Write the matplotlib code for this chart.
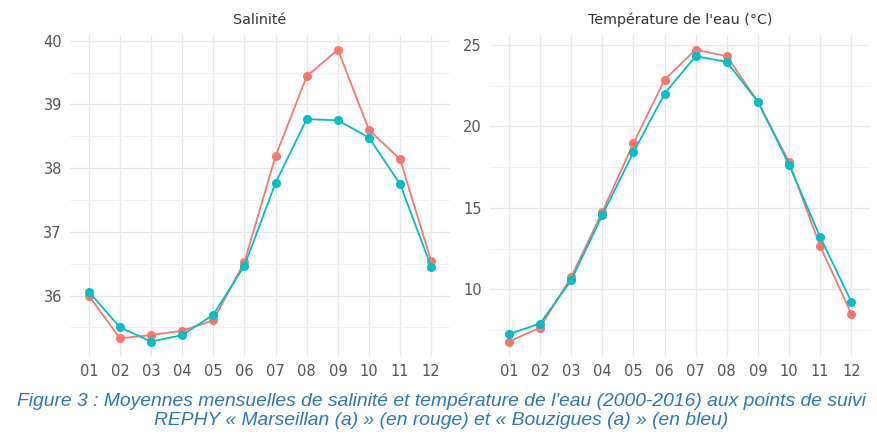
import matplotlib.pyplot as plt
import numpy as np

months = ["01", "02", "03", "04", "05", "06", "07", "08", "09", "10", "11", "12"]

# salinite
sal_marseillan = [36.0, 35.33, 35.38, 35.45, 35.61, 36.53, 38.19, 39.44, 39.86, 38.6, 38.14, 36.54]
sal_bouzigues = [36.06, 35.5, 35.28, 35.38, 35.7, 36.47, 37.77, 38.77, 38.75, 38.48, 37.75, 36.45]

# temperature de l'eau
temp_marseillan = [6.8, 7.65, 10.75, 14.75, 18.95, 22.85, 24.7, 24.3, 21.5, 17.8, 12.65, 8.5]
temp_bouzigues = [7.25, 7.9, 10.55, 14.55, 18.4, 22.0, 24.3, 23.95, 21.5, 17.65, 13.2, 9.25]

red = "#F8766D"
blue = "#00BFC4"

fig = plt.figure(figsize=(8.77, 4.38), dpi=100)
ax1 = fig.add_axes([0.080, 0.187, 0.433, 0.733])
ax2 = fig.add_axes([0.559, 0.187, 0.433, 0.733])


def panel(ax, a, b, title, major, minor):
    x = np.arange(1, len(months) + 1)
    ax.plot(x, a, color=red, lw=1.3, marker="o", ms=5.5, zorder=3)
    ax.plot(x, b, color=blue, lw=1.3, marker="o", ms=5.5, zorder=3)
    lo = min(min(a), min(b))
    hi = max(max(a), max(b))
    pad = (hi - lo) * 0.05
    ax.set_ylim(lo - pad, hi + pad)
    ax.set_xlim(0.4, len(months) + 0.6)
    ax.set_xticks(x)
    ax.set_xticklabels(months)
    ax.set_yticks(major)
    ax.set_yticks(minor, minor=True)
    ax.grid(True, which="major", color="#E6E6E6", lw=0.9)
    ax.grid(True, which="minor", axis="y", color="#F0F0F0", lw=0.7)
    ax.set_axisbelow(True)
    for s in ax.spines.values():
        s.set_visible(False)
    ax.tick_params(which="both", length=0)
    ax.tick_params(labelsize=10.5, colors="#555555", pad=6)
    ax.tick_params(axis="x", pad=6)
    ax.set_title(title, fontsize=10.3, color="#333333", pad=8)


panel(ax1, sal_marseillan, sal_bouzigues, "Salinité",
      [36, 37, 38, 39, 40], [35.5, 36.5, 37.5, 38.5, 39.5])
panel(ax2, temp_marseillan, temp_bouzigues, "Température de l'eau (°C)",
      [10, 15, 20, 25], [7.5, 12.5, 17.5, 22.5])

caption = ("Figure 3 : Moyennes mensuelles de salinité et température de l'eau (2000-2016) aux points de suivi\n"
           "REPHY « Marseillan (a) » (en rouge) et « Bouzigues (a) » (en bleu)")
fig.text(0.503, 0.062, caption, ha="center", va="center", fontsize=13.9, style="italic",
         color="#2E75B6", family="Liberation Sans", linespacing=1.15)

plt.savefig("out.png", dpi=100)
